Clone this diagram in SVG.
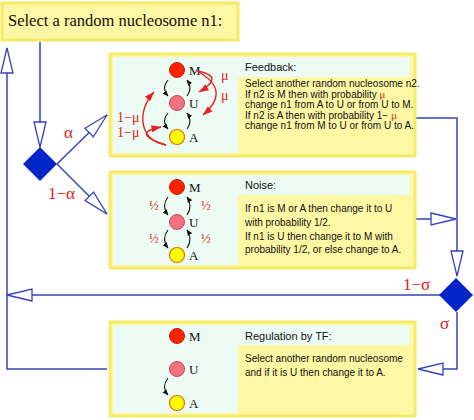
<svg xmlns="http://www.w3.org/2000/svg" width="474" height="420" viewBox="0 0 474 420">
<style>
.box{fill:#fef8a4;stroke:#f5eb66;stroke-width:3}
.cy{fill:#ecfbf4}
.ln{fill:none;stroke:#3344bb;stroke-width:1.5}
.dm{fill:#0026c8}
.sans{font-family:"Liberation Sans",Arial,sans-serif;fill:#111}
.ser{font-family:"Liberation Serif","Times New Roman",serif;fill:#111}
.red{font-family:"Liberation Serif","Times New Roman",serif;fill:#e02020}
.cM{fill:#ff2200;stroke:#c81e00;stroke-width:1}
.cU{fill:#f47282;stroke:#d04050;stroke-width:1}
.cA{fill:#ffff00;stroke:#e07000;stroke-width:1.2}
.ba{fill:none;stroke:#111;stroke-width:1.1;marker-end:url(#bh)}
.ra{fill:none;stroke:#e82020;stroke-width:1.4;marker-end:url(#rh)}
</style>
<defs>
<marker id="oa" markerUnits="userSpaceOnUse" markerWidth="28" markerHeight="14" viewBox="-1 -1 28 14" refX="25" refY="6" orient="auto"><path d="M0,0 L25,6 L0,12 Z" fill="#fff" stroke="#3344bb" stroke-width="1.3"/></marker>
<marker id="bh" markerUnits="userSpaceOnUse" markerWidth="6" markerHeight="6" viewBox="0 0 6 6" refX="5.5" refY="3" orient="auto"><path d="M0,0.5 L6,3 L0,5.5 Z" fill="#111"/></marker>
<marker id="rh" markerUnits="userSpaceOnUse" markerWidth="10" markerHeight="8" viewBox="0 0 10 8" refX="9.5" refY="4" orient="auto"><path d="M0,0.5 L10,4 L0,7.5 Z" fill="#e82020"/></marker>
</defs>

<g id="start">
<rect class="box" x="2" y="3" width="236" height="37"/>
<text class="ser" x="8" y="26" font-size="16.5">Select a random nucleosome n1:</text>
</g>

<g id="connectors">
<path class="ln" d="M40,42 V147" marker-end="url(#oa)"/>
<path class="ln" d="M57,164 L107,115" marker-end="url(#oa)"/>
<path class="ln" d="M57,164 L107,214" marker-end="url(#oa)"/>
<path class="ln" d="M415,118 H457 V276" marker-end="url(#oa)"/>
<path class="ln" d="M415,219 H456" marker-end="url(#oa)"/>
<path class="ln" d="M440,295 H7" marker-end="url(#oa)"/>
<path class="ln" d="M457,312 V369 H418" marker-end="url(#oa)"/>
<path class="ln" d="M107,369 H7 V48" marker-end="url(#oa)"/>
<text class="red" x="64" y="138" font-size="17">α</text>
<text class="red" x="48" y="199" font-size="17">1−α</text>
<text class="red" x="403" y="290" font-size="17">1−σ</text>
<text class="red" x="440" y="329" font-size="17">σ</text>
</g>

<g id="choice1"><polygon class="dm" points="40,147 57,164 40,181 23,164"/></g>
<g id="choice2"><polygon class="dm" points="456,278 473,295 456,312 439,295"/></g>

<g id="feedback">
<rect class="box" x="110" y="54" width="305" height="102"/>
<rect class="cy" x="113" y="57" width="125" height="96"/>
<rect class="cy" x="238" y="57" width="172" height="20"/>
<circle class="cM" cx="177" cy="70" r="7.5"/>
<circle class="cU" cx="177" cy="103" r="7.5"/>
<circle class="cA" cx="177" cy="137" r="7.5"/>
<text class="ser" x="189" y="75" font-size="13">M</text>
<text class="ser" x="189" y="108" font-size="13">U</text>
<text class="ser" x="189" y="142" font-size="13">A</text>
<path class="ba" d="M168,80 Q161,88 168,96"/>
<path class="ba" d="M187,96 Q193,88 187,80"/>
<path class="ba" d="M168,113 Q161,121 168,129"/>
<path class="ba" d="M187,129 Q193,121 187,113"/>
<path class="ra" d="M197,71 Q226,76 199,92"/>
<path class="ra" d="M197,71 Q232,90 203,115"/>
<path class="ra" d="M166,145 C150,140 134,132 161,127"/>
<path class="ra" d="M166,145 C138,140 137,110 154,92"/>
<text class="red" x="221" y="80" font-size="14">μ</text>
<text class="red" x="221" y="100" font-size="14">μ</text>
<text class="red" x="117" y="122" font-size="14">1−μ</text>
<text class="red" x="117" y="137" font-size="14">1−μ</text>
<text class="sans" x="245" y="71" font-size="11">Feedback:</text>
<text class="sans" x="245" y="87" font-size="10">Select another random nucleosome n2.</text>
<text class="sans" x="245" y="97.5" font-size="10">If n2 is M then with probability <tspan class="red" font-size="11">μ</tspan></text>
<text class="sans" x="245" y="108" font-size="10">change n1 from A to U or from U to M.</text>
<text class="sans" x="245" y="118.5" font-size="10">If n2 is A then with probability  1− <tspan class="red" font-size="11">μ</tspan></text>
<text class="sans" x="245" y="129" font-size="10">change n1 from M to U or from U to A.</text>
</g>

<g id="noise">
<rect class="box" x="110" y="172" width="305" height="96"/>
<rect class="cy" x="113" y="175" width="125" height="90"/>
<rect class="cy" x="238" y="175" width="172" height="20"/>
<circle class="cM" cx="177" cy="187" r="7.5"/>
<circle class="cU" cx="177" cy="222" r="7.5"/>
<circle class="cA" cx="177" cy="255" r="7.5"/>
<text class="ser" x="189" y="192" font-size="13">M</text>
<text class="ser" x="189" y="227" font-size="13">U</text>
<text class="ser" x="189" y="260" font-size="13">A</text>
<path class="ba" d="M168,197 Q161,206 168,215"/>
<path class="ba" d="M187,215 Q193,206 187,197"/>
<path class="ba" d="M168,230 Q161,239 168,248"/>
<path class="ba" d="M187,248 Q193,239 187,230"/>
<text class="red" x="149" y="210" font-size="13">½</text>
<text class="red" x="201" y="210" font-size="13">½</text>
<text class="red" x="149" y="243" font-size="13">½</text>
<text class="red" x="201" y="243" font-size="13">½</text>
<text class="sans" x="245" y="189" font-size="11">Noise:</text>
<text class="sans" x="245" y="212" font-size="10">If n1 is M or A then change it to U</text>
<text class="sans" x="245" y="226" font-size="10">with probability 1/2.</text>
<text class="sans" x="245" y="240" font-size="10">If n1 is U then change it to M with</text>
<text class="sans" x="245" y="253" font-size="10">probability 1/2, or else change to A.</text>
</g>

<g id="regulation">
<rect class="box" x="110" y="322" width="305" height="94"/>
<rect class="cy" x="113" y="325" width="125" height="88"/>
<rect class="cy" x="238" y="325" width="172" height="20"/>
<circle class="cM" cx="177" cy="336" r="7.5"/>
<circle class="cU" cx="177" cy="369" r="7.5"/>
<circle class="cA" cx="177" cy="403" r="7.5"/>
<text class="ser" x="189" y="341" font-size="13">M</text>
<text class="ser" x="189" y="374" font-size="13">U</text>
<text class="ser" x="189" y="408" font-size="13">A</text>
<path class="ba" d="M168,378 Q161,387 168,395"/>
<text class="sans" x="245" y="340" font-size="11">Regulation by TF:</text>
<text class="sans" x="245" y="362" font-size="10">Select another random nucleosome</text>
<text class="sans" x="245" y="376" font-size="10">and if it is U then change it to A.</text>
</g>
</svg>
